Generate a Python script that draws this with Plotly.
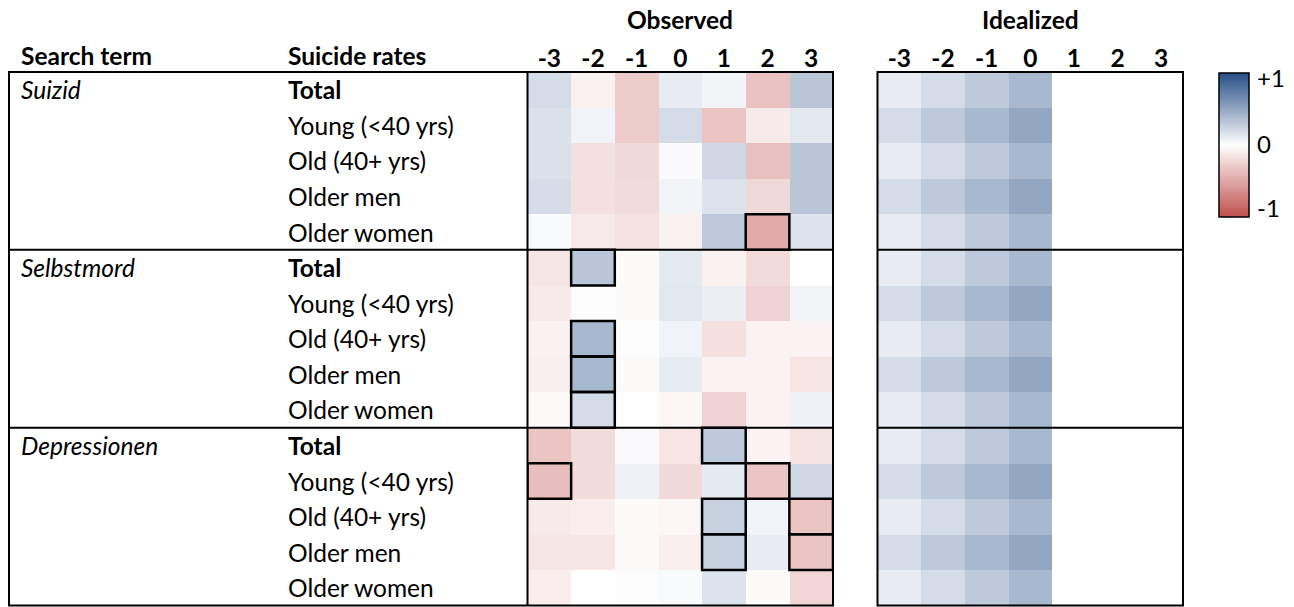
import plotly.graph_objects as go

W, H = 1294, 607

lags = ["-3", "-2", "-1", "0", "1", "2", "3"]
search_terms = ["Suizid", "Selbstmord", "Depressionen"]
subgroups = ["Total", "Young (<40 yrs)", "Old (40+ yrs)", "Older men", "Older women"]

observed_suizid = [
    [0.20, -0.08, -0.30, 0.10, 0.06, -0.35, 0.32],
    [0.17, 0.07, -0.30, 0.20, -0.33, -0.12, 0.13],
    [0.17, -0.18, -0.22, 0.02, 0.22, -0.36, 0.32],
    [0.19, -0.18, -0.20, 0.06, 0.16, -0.22, 0.32],
    [0.03, -0.12, -0.17, -0.08, 0.30, -0.48, 0.16],
]
observed_selbstmord = [
    [-0.14, 0.32, -0.03, 0.12, -0.08, -0.20, 0.00],
    [-0.12, -0.01, -0.03, 0.13, 0.09, -0.26, 0.06],
    [-0.08, 0.40, -0.01, 0.07, -0.18, -0.07, -0.07],
    [-0.09, 0.40, -0.03, 0.11, -0.07, -0.07, -0.15],
    [-0.03, 0.20, 0.00, -0.05, -0.26, -0.07, 0.08],
]
observed_depressionen = [
    [-0.33, -0.20, 0.02, -0.15, 0.30, -0.07, -0.16],
    [-0.37, -0.20, 0.08, -0.21, 0.12, -0.33, 0.22],
    [-0.12, -0.10, -0.03, -0.05, 0.26, 0.07, -0.33],
    [-0.14, -0.14, -0.03, -0.09, 0.26, 0.10, -0.33],
    [-0.10, 0.00, -0.01, 0.03, 0.16, -0.03, -0.24],
]
idealized_light = [0.10, 0.20, 0.30, 0.40, None, None, None]
idealized_dark = [0.20, 0.30, 0.40, 0.50, None, None, None]
idealized_pattern = [idealized_light, idealized_dark, idealized_light, idealized_dark, idealized_light]

# significant cells (row index, lag index)
significant = [(4, 5), (5, 1), (7, 1), (8, 1), (9, 1), (10, 4), (11, 0), (11, 5),
               (12, 4), (13, 4), (12, 6), (13, 6)]

observed = observed_suizid + observed_selbstmord + observed_depressionen
idealized = idealized_pattern * 3
n_rows = len(observed)
rows = list(range(n_rows))
cols = list(range(len(lags)))

FONT = "Lato"
FS = 24.5
colorscale = [[0.0, "rgb(192,80,77)"], [0.5, "rgb(255,255,255)"], [1.0, "rgb(38,78,134)"]]

def xp(px):
    return px / W

def yp(py):
    return 1 - py / H

TOP, BOTTOM = 72, 605.5
OBS_L, OBS_R = 527.5, 833
IDE_L, IDE_R = 877.5, 1183
TABLE_L = 9

fig = go.Figure()
fig.add_trace(go.Heatmap(
    z=observed, x=cols, y=rows, colorscale=colorscale, zmin=-1, zmax=1,
    xaxis="x", yaxis="y", hoverinfo="skip",
    colorbar=dict(
        x=xp(1219), xanchor="left", y=yp(73), yanchor="top",
        lenmode="pixels", len=144, thicknessmode="pixels", thickness=30,
        xpad=0, ypad=0, outlinecolor="black", outlinewidth=1.5,
        tickvals=[-0.88, 0, 0.92], ticktext=["-1", "0", "+1"],
        ticks="outside", ticklen=3, tickcolor="rgba(0,0,0,0)",
        tickfont=dict(family=FONT, size=24, color="black"),
    ),
))
fig.add_trace(go.Heatmap(
    z=idealized, x=cols, y=rows, colorscale=colorscale, zmin=-1, zmax=1,
    xaxis="x2", yaxis="y2", showscale=False, hoverinfo="skip",
))

tickfont = dict(family=FONT, size=FS, color="black", weight="bold")
axis_common = dict(range=[-0.5, 6.5], side="top", tickvals=cols, ticktext=lags,
                   tickfont=tickfont, showgrid=False, zeroline=False, showline=False,
                   ticks="", ticklabelstandoff=-1, fixedrange=True)
yaxis_common = dict(range=[n_rows - 0.5, -0.5], domain=[yp(BOTTOM), yp(TOP)], showticklabels=False,
                    showgrid=False, zeroline=False, showline=False, ticks="", fixedrange=True)

fig.update_layout(
    width=W, height=H, margin=dict(l=0, r=0, t=0, b=0),
    paper_bgcolor="white", plot_bgcolor="white",
    xaxis=dict(domain=[xp(OBS_L), xp(OBS_R)], anchor="y", **axis_common),
    yaxis=dict(anchor="x", **yaxis_common),
    xaxis2=dict(domain=[xp(IDE_L), xp(IDE_R)], anchor="y2", **axis_common),
    yaxis2=dict(anchor="x2", **yaxis_common),
    showlegend=False,
)

shapes = []
line = dict(color="black", width=2)
# outer boxes
shapes.append(dict(type="rect", xref="paper", yref="paper", x0=xp(TABLE_L), x1=xp(OBS_R),
                   y0=yp(BOTTOM), y1=yp(TOP), line=line))
shapes.append(dict(type="line", xref="paper", yref="paper", x0=xp(OBS_L), x1=xp(OBS_L),
                   y0=yp(BOTTOM), y1=yp(TOP), line=line))
shapes.append(dict(type="rect", xref="paper", yref="paper", x0=xp(IDE_L), x1=xp(IDE_R),
                   y0=yp(BOTTOM), y1=yp(TOP), line=line))
# section dividers
n_sub = len(subgroups)
for k in range(1, len(search_terms)):
    yb = k * n_sub - 0.5
    shapes.append(dict(type="line", xref="paper", yref="y", x0=xp(TABLE_L), x1=xp(OBS_R),
                       y0=yb, y1=yb, line=line))
    shapes.append(dict(type="line", xref="paper", yref="y2", x0=xp(IDE_L), x1=xp(IDE_R),
                       y0=yb, y1=yb, line=line))
# significant cell boxes
for r, c in significant:
    shapes.append(dict(type="rect", xref="x", yref="y", x0=c - 0.5, x1=c + 0.5,
                       y0=r - 0.5, y1=r + 0.5, line=dict(color="black", width=2.5)))
fig.update_layout(shapes=shapes)

ann = []
font = dict(family=FONT, size=FS, color="black")
for i, term in enumerate(search_terms):
    ann.append(dict(xref="paper", yref="y", x=xp(19), y=i * n_sub, xanchor="left", yanchor="middle",
                    text=f"<i>{term}</i>", showarrow=False, font=font))
    for j, sg in enumerate(subgroups):
        txt = f"<b>{sg}</b>" if j == 0 else sg
        ann.append(dict(xref="paper", yref="y", x=xp(286), y=i * n_sub + j, xanchor="left",
                        yanchor="middle", text=txt, showarrow=False, font=font))
ann.append(dict(xref="paper", yref="paper", x=xp(19), y=yp(55), xanchor="left", yanchor="middle",
                text="<b>Search term</b>", showarrow=False, font=font))
ann.append(dict(xref="paper", yref="paper", x=xp(286), y=yp(55), xanchor="left", yanchor="middle",
                text="<b>Suicide rates</b>", showarrow=False, font=font))
ann.append(dict(xref="paper", yref="paper", x=xp((OBS_L + OBS_R) / 2), y=yp(19), xanchor="center",
                yanchor="middle", text="<b>Observed</b>", showarrow=False, font=font))
ann.append(dict(xref="paper", yref="paper", x=xp((IDE_L + IDE_R) / 2), y=yp(19), xanchor="center",
                yanchor="middle", text="<b>Idealized</b>", showarrow=False, font=font))
fig.update_layout(annotations=ann)

fig.write_html("out.html")
